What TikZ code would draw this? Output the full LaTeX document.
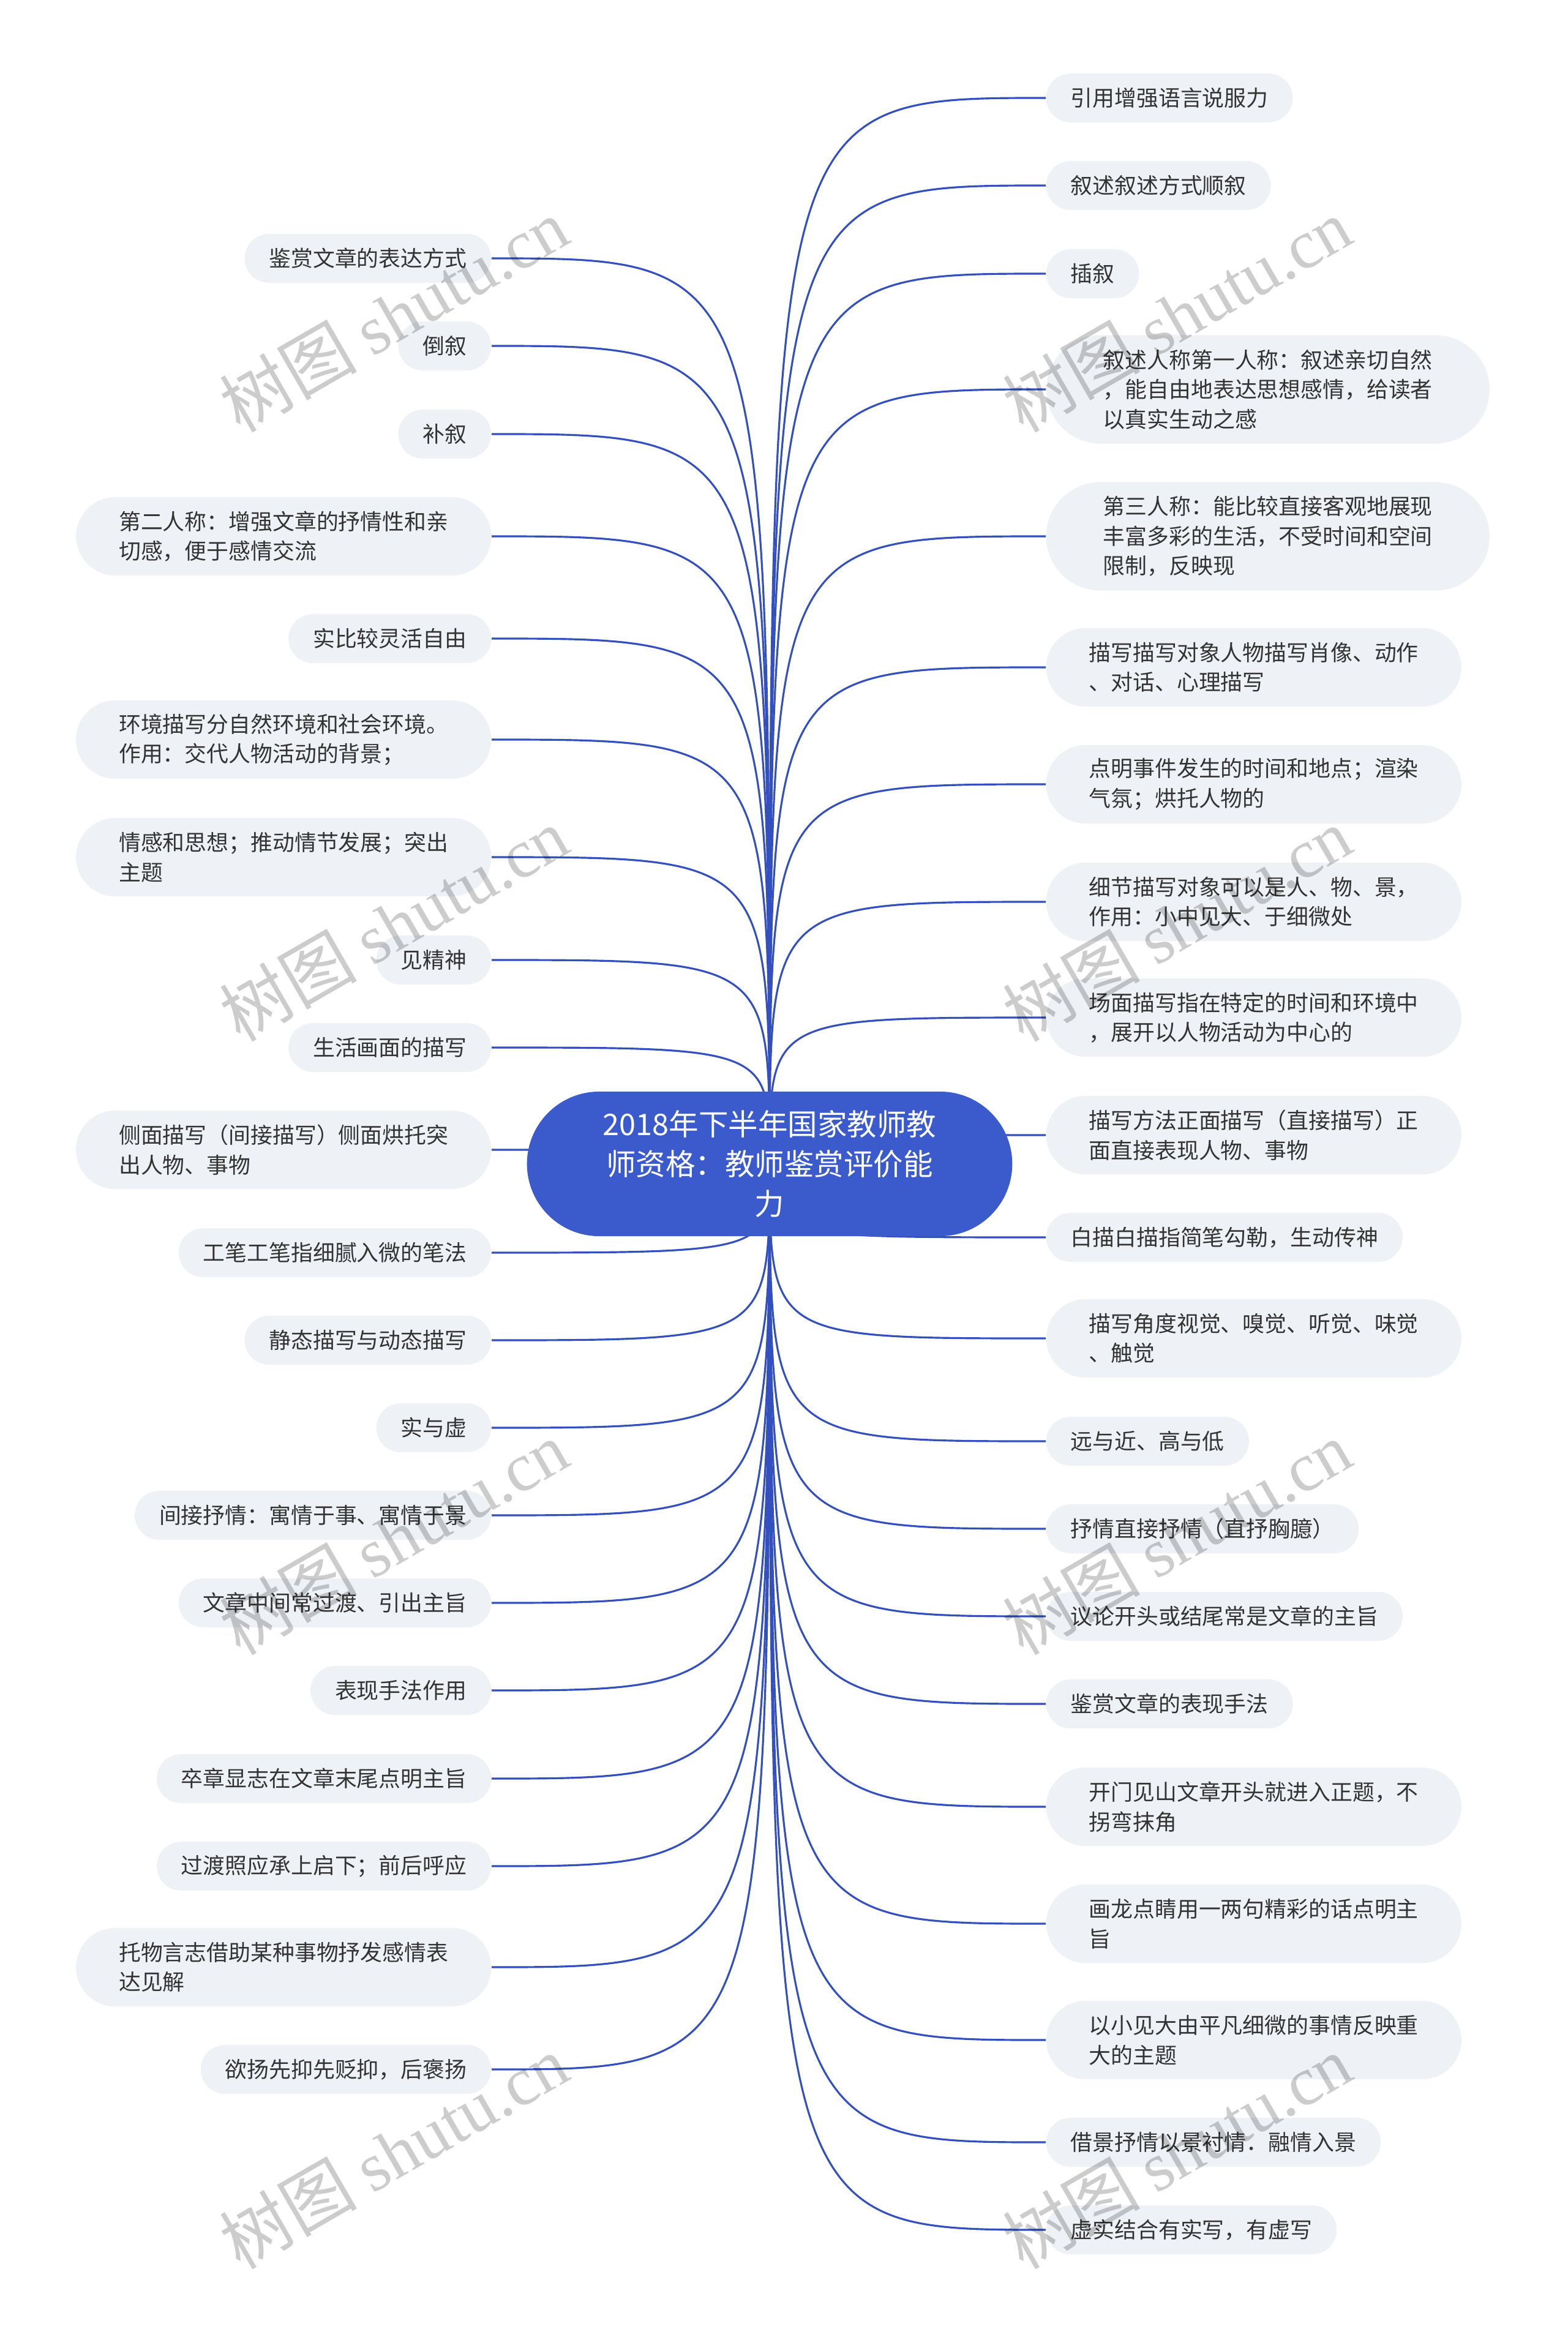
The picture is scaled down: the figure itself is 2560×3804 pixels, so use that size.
\documentclass[tikz,border=0pt]{standalone}
\usepackage{fontspec}
\usepackage{tikz}
\usetikzlibrary{backgrounds}

\newfontfamily\cjk{Noto Sans CJK SC}
\newfontfamily\wmserif{Liberation Serif}
\definecolor{mapblue}{RGB}{59,91,204}
\definecolor{linkblue}{RGB}{52,80,190}
\definecolor{leafgray}{RGB}{238,241,245}
\definecolor{leaftext}{RGB}{51,51,51}
\newcommand\leaffont{\cjk\fontsize{10.2pt}{13.8pt}\selectfont}

\tikzset{
  leaf/.style={rectangle, fill=leafgray, text=leaftext, font=\leaffont,
    align=left, inner xsep=.4cm, inner ysep=0pt, minimum height=.8cm, rounded corners=.4cm},
  leaftwo/.style={leaf, minimum height=1.28cm, inner xsep=.7cm, rounded corners=.64cm},
  leafthree/.style={leaf, minimum height=1.77cm, inner xsep=.93cm, rounded corners=.885cm},
  link/.style={draw=linkblue, line width=.9pt},
  wmark/.style={rotate=30, text=black, text opacity=.2,
    font=\cjk\fontsize{32pt}{32pt}\selectfont}
}

\begin{document}
\begin{tikzpicture}[x=.01cm, y=-.01cm]
      \useasboundingbox (0,0) rectangle (2560,3804);

      \node (root) at (1257,1901) [rectangle, rounded corners=1.18cm, fill=mapblue, text=white, align=center,
        minimum height=2.36cm, inner xsep=1.24cm, font=\cjk\fontsize{13.8pt}{18.4pt}\selectfont]
        {2018年下半年国家教师教\\师资格：教师鉴赏评价能\\力};

      % left side
      \node (l1) at (803,422) [leaf, anchor=east] {鉴赏文章的表达方式};
      \node (l2) at (803,565) [leaf, anchor=east] {倒叙};
      \node (l3) at (803,709) [leaf, anchor=east] {补叙};
      \node (l4) at (803,876) [leaftwo, anchor=east] {第二人称：增强文章的抒情性和亲\\切感，便于感情交流};
      \node (l5) at (803,1043) [leaf, anchor=east] {实比较灵活自由};
      \node (l6) at (803,1208) [leaftwo, anchor=east] {环境描写分自然环境和社会环境。\\作用：交代人物活动的背景；};
      \node (l7) at (803,1400) [leaftwo, anchor=east] {情感和思想；推动情节发展；突出\\主题};
      \node (l8) at (803,1568) [leaf, anchor=east] {见精神};
      \node (l9) at (803,1711) [leaf, anchor=east] {生活画面的描写};
      \node (l10) at (803,1878) [leaftwo, anchor=east] {侧面描写（间接描写）侧面烘托突\\出人物、事物};
      \node (l11) at (803,2046) [leaf, anchor=east] {工笔工笔指细腻入微的笔法};
      \node (l12) at (803,2189) [leaf, anchor=east] {静态描写与动态描写};
      \node (l13) at (803,2332) [leaf, anchor=east] {实与虚};
      \node (l14) at (803,2475) [leaf, anchor=east] {间接抒情：寓情于事、寓情于景};
      \node (l15) at (803,2618) [leaf, anchor=east] {文章中间常过渡、引出主旨};
      \node (l16) at (803,2761) [leaf, anchor=east] {表现手法作用};
      \node (l17) at (803,2905) [leaf, anchor=east] {卒章显志在文章末尾点明主旨};
      \node (l18) at (803,3048) [leaf, anchor=east] {过渡照应承上启下；前后呼应};
      \node (l19) at (803,3213) [leaftwo, anchor=east] {托物言志借助某种事物抒发感情表\\达见解};
      \node (l20) at (803,3380) [leaf, anchor=east] {欲扬先抑先贬抑，后褒扬};

      % right side
      \node (r1) at (1708,160) [leaf, anchor=west] {引用增强语言说服力};
      \node (r2) at (1708,303) [leaf, anchor=west] {叙述叙述方式顺叙};
      \node (r3) at (1708,447) [leaf, anchor=west] {插叙};
      \node (r4) at (1708,636) [leafthree, anchor=west] {叙述人称第一人称：叙述亲切自然\\，能自由地表达思想感情，给读者\\以真实生动之感};
      \node (r5) at (1708,876) [leafthree, anchor=west] {第三人称：能比较直接客观地展现\\丰富多彩的生活，不受时间和空间\\限制，反映现};
      \node (r6) at (1708,1090) [leaftwo, anchor=west] {描写描写对象人物描写肖像、动作\\、对话、心理描写};
      \node (r7) at (1708,1281) [leaftwo, anchor=west] {点明事件发生的时间和地点；渲染\\气氛；烘托人物的};
      \node (r8) at (1708,1473) [leaftwo, anchor=west] {细节描写对象可以是人、物、景，\\作用：小中见大、于细微处};
      \node (r9) at (1708,1662) [leaftwo, anchor=west] {场面描写指在特定的时间和环境中\\，展开以人物活动为中心的};
      \node (r10) at (1708,1854) [leaftwo, anchor=west] {描写方法正面描写（直接描写）正\\面直接表现人物、事物};
      \node (r11) at (1708,2021) [leaf, anchor=west] {白描白描指简笔勾勒，生动传神};
      \node (r12) at (1708,2186) [leaftwo, anchor=west] {描写角度视觉、嗅觉、听觉、味觉\\、触觉};
      \node (r13) at (1708,2354) [leaf, anchor=west] {远与近、高与低};
      \node (r14) at (1708,2497) [leaf, anchor=west] {抒情直接抒情（直抒胸臆）};
      \node (r15) at (1708,2640) [leaf, anchor=west] {议论开头或结尾常是文章的主旨};
      \node (r16) at (1708,2783) [leaf, anchor=west] {鉴赏文章的表现手法};
      \node (r17) at (1708,2951) [leaftwo, anchor=west] {开门见山文章开头就进入正题，不\\拐弯抹角};
      \node (r18) at (1708,3142) [leaftwo, anchor=west] {画龙点睛用一两句精彩的话点明主\\旨};
      \node (r19) at (1708,3332) [leaftwo, anchor=west] {以小见大由平凡细微的事情反映重\\大的主题};
      \node (r20) at (1708,3499) [leaf, anchor=west] {借景抒情以景衬情．融情入景};
      \node (r21) at (1708,3642) [leaf, anchor=west] {虚实结合有实写，有虚写};

      \begin{scope}[on background layer]
        \foreach \n in {l1,l2,l3,l4,l5,l6,l7,l8,l9,l10,l11,l12,l13,l14,l15,l16,l17,l18,l19,l20}
          \draw[link] (root.center) .. controls (root.center |- \n.east) .. (\n.east);
        \foreach \n in {r1,r2,r3,r4,r5,r6,r7,r8,r9,r10,r11,r12,r13,r14,r15,r16,r17,r18,r19,r20,r21}
          \draw[link] (root.center) .. controls (root.center |- \n.west) .. (\n.west);
      \end{scope}

      % watermark
      \node (w1) at (643,514) [wmark] {树图 {\wmserif shutu.cn}};
      \node (w2) at (643,1509) [wmark] {树图 {\wmserif shutu.cn}};
      \node (w3) at (643,2511) [wmark] {树图 {\wmserif shutu.cn}};
      \node (w4) at (643,3514) [wmark] {树图 {\wmserif shutu.cn}};
      \node (w5) at (1922,514) [wmark] {树图 {\wmserif shutu.cn}};
      \node (w6) at (1922,1509) [wmark] {树图 {\wmserif shutu.cn}};
      \node (w7) at (1922,2511) [wmark] {树图 {\wmserif shutu.cn}};
      \node (w8) at (1922,3514) [wmark] {树图 {\wmserif shutu.cn}};
\end{tikzpicture}
\end{document}
